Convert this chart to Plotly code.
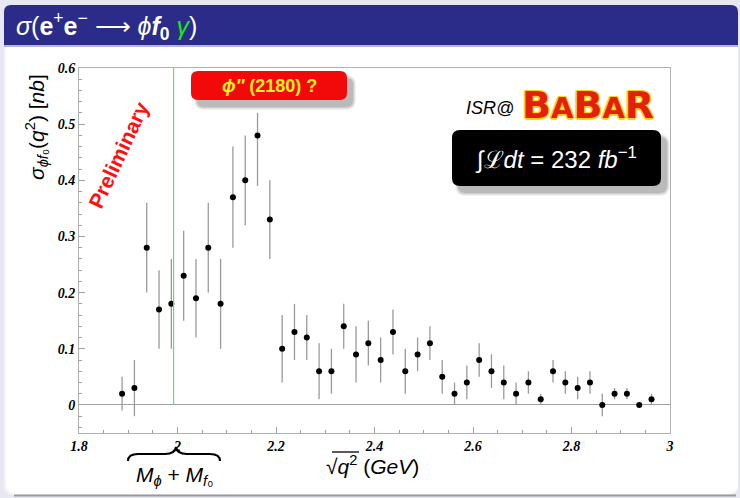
import plotly.graph_objects as go

# ---- data ----
x_centers = [1.8875, 1.9125, 1.9375, 1.9625, 1.9875, 2.0125, 2.0375, 2.0625, 2.0875, 2.1125,
             2.1375, 2.1625, 2.1875, 2.2125, 2.2375, 2.2625, 2.2875, 2.3125, 2.3375, 2.3625,
             2.3875, 2.4125, 2.4375, 2.4625, 2.4875, 2.5125, 2.5375, 2.5625, 2.5875, 2.6125,
             2.6375, 2.6625, 2.6875, 2.7125, 2.7375, 2.7625, 2.7875, 2.8125, 2.8375, 2.8625,
             2.8875, 2.9125, 2.9375, 2.9625]
sigma_nb = [0.02, 0.03, 0.28, 0.17, 0.18, 0.23, 0.19, 0.28, 0.18, 0.37,
            0.40, 0.48, 0.33, 0.10, 0.13, 0.12, 0.06, 0.06, 0.14, 0.09,
            0.11, 0.08, 0.13, 0.06, 0.09, 0.11, 0.05, 0.02, 0.04, 0.08,
            0.06, 0.04, 0.02, 0.04, 0.01, 0.06, 0.04, 0.03, 0.04, 0.00,
            0.02, 0.02, 0.00, 0.01]
err_up = [0.03, 0.05, 0.08, 0.07, 0.08, 0.08, 0.07, 0.08, 0.08, 0.09,
          0.08, 0.04, 0.07, 0.06, 0.05, 0.04, 0.05, 0.04, 0.04, 0.05,
          0.04, 0.04, 0.04, 0.04, 0.03, 0.03, 0.03, 0.02, 0.03, 0.03,
          0.03, 0.03, 0.02, 0.02, 0.01, 0.02, 0.02, 0.02, 0.02, 0.02,
          0.01, 0.01, 0.00, 0.01]
err_down = [0.03, 0.05, 0.08, 0.07, 0.08, 0.08, 0.07, 0.08, 0.08, 0.09,
            0.08, 0.09, 0.07, 0.06, 0.05, 0.04, 0.05, 0.04, 0.04, 0.05,
            0.04, 0.04, 0.04, 0.04, 0.03, 0.03, 0.03, 0.02, 0.03, 0.03,
            0.03, 0.03, 0.02, 0.02, 0.01, 0.02, 0.02, 0.02, 0.02, 0.02,
            0.01, 0.01, 0.00, 0.01]
threshold_gev = [1.992]
x_tickvals = [1.8, 2.0, 2.2, 2.4, 2.6, 2.8, 3.0]
x_ticktext = ["1.8", "2", "2.2", "2.4", "2.6", "2.8", "3"]
y_tickvals = [0.0, 0.1, 0.2, 0.3, 0.4, 0.5, 0.6]
y_ticktext = ["0", "0.1", "0.2", "0.3", "0.4", "0.5", "0.6"]

# ---- geometry helpers (pixels -> paper) ----
W, H = 740, 498
ML, MR, MT, MB = 79, 70, 68, 65
PW, PH = W - ML - MR, H - MT - MB


def px(x):
    return (x - ML) / PW


def py(y):
    return (H - MB - y) / PH


def P(x, y):
    return f"{px(x):.5f},{py(y):.5f}"


def rrect(x0, y0, x1, y1, r, top_only=False):
    if top_only:
        return (f"M {P(x0, y1)} L {P(x0, y0 + r)} Q {P(x0, y0)} {P(x0 + r, y0)} "
                f"L {P(x1 - r, y0)} Q {P(x1, y0)} {P(x1, y0 + r)} L {P(x1, y1)} Z")
    return (f"M {P(x0 + r, y0)} L {P(x1 - r, y0)} Q {P(x1, y0)} {P(x1, y0 + r)} "
            f"L {P(x1, y1 - r)} Q {P(x1, y1)} {P(x1 - r, y1)} L {P(x0 + r, y1)} "
            f"Q {P(x0, y1)} {P(x0, y1 - r)} L {P(x0, y0 + r)} Q {P(x0, y0)} {P(x0 + r, y0)} Z")


shapes = []


def add_path(path, fill=None, line_color=None, line_width=0, opacity=1.0, layer="below"):
    shapes.append(dict(type="path", xref="paper", yref="paper", path=path,
                       fillcolor=fill if fill else "rgba(0,0,0,0)",
                       line=dict(color=line_color if line_color else "rgba(0,0,0,0)", width=line_width),
                       opacity=opacity, layer=layer))


def add_line(x0, y0, x1, y1, color, width, layer="above"):
    shapes.append(dict(type="line", xref="paper", yref="paper", x0=px(x0), x1=px(x1), y0=py(y0), y1=py(y1),
                       line=dict(color=color, width=width), layer=layer))


# slide background
add_path(rrect(4, 5, 738, 495, 10), fill="#f4f4f8")
add_path(rrect(6, 5, 738, 494, 10), fill="#ffffff")
add_line(14, 495.5, 736, 495.5, "#9a9a9a", 2, layer="below")
# title bar
add_path(rrect(4, 5, 738, 45, 7, top_only=True), fill="#2b2b8a")
add_line(4, 46, 738, 46, "#9c9cd0", 1.5, layer="below")


def shadow_box(x0, y0, x1, y1, r, dx=6, dy=7):
    for k, op in [(3, 0.10), (2, 0.15), (1, 0.2), (0, 0.25)]:
        add_path(rrect(x0 + dx - k, y0 + dy - k, x1 + dx + k, y1 + dy + k, r + k), fill="#808080",
                 opacity=op, layer="above")


# red phi'' box
shadow_box(191, 71, 347, 100, 7)
add_path(rrect(191, 71, 347, 100, 7), fill="#f20a0a", layer="above")
# black luminosity box
shadow_box(452, 130, 661, 186, 8)
add_path(rrect(452, 130, 661, 186, 8), fill="#000000", layer="above")

# threshold line
shapes.append(dict(type="line", xref="x", yref="y", x0=threshold_gev[0], x1=threshold_gev[0], y0=0, y1=0.6,
                   line=dict(color="#66dd66", width=1.2), layer="above"))

# brace under axis
brace = (f"M {P(128, 461)} Q {P(128, 454)} {P(138, 454)} L {P(165, 454)} "
         f"Q {P(175, 454)} {P(176, 447)} Q {P(177, 454)} {P(187, 454)} "
         f"L {P(210, 454)} Q {P(220, 454)} {P(220, 461)}")
shapes.append(dict(type="path", xref="paper", yref="paper", path=brace,
                   line=dict(color="#000000", width=2), layer="above"))

# overline of the square root in x title
add_line(332, 452, 359, 452, "#000000", 1.3)

fig = go.Figure()
fig.add_trace(go.Scatter(
    x=x_centers, y=sigma_nb, mode="markers",
    marker=dict(color="black", size=6),
    error_y=dict(type="data", symmetric=False, array=err_up, arrayminus=err_down,
                 color="#9a9a9a", thickness=1.3, width=0),
    showlegend=False, hoverinfo="skip"))

ann = []


def A(x, y, text, size, color="black", family="Liberation Sans", angle=0, xanchor="center",
      yanchor="middle", weight="normal", style="normal", shadow=None):
    f = dict(size=size, color=color, family=family, weight=weight, style=style)
    if shadow:
        f["shadow"] = shadow
    ann.append(dict(x=px(x), y=py(y), xref="paper", yref="paper", text=text, showarrow=False,
                    xanchor=xanchor, yanchor=yanchor, textangle=angle, font=f))


A(14, 26, "<i>σ</i>(<b>e</b><sup>+</sup><b>e</b><sup>−</sup> ⟶ <i>ϕ</i><b><i>f</i></b><sub><b>0</b></sub> "
          "<span style='color:#19e619'><i>γ</i></span>)", 25, color="white", xanchor="left")
A(269, 86, "<i>ϕ′′</i> (2180) ?", 18, color="#ffee22", weight="bold")
A(118, 155, "Preliminary", 21, color="#ff1010", angle=-65, weight="bold")
A(490, 108, "<i>ISR@</i>", 18)
outline = ("-1px -1px 0 #ffd21a, 1px -1px 0 #ffd21a, -1px 1px 0 #ffd21a, 1px 1px 0 #ffd21a, "
           "0 -1.5px 0 #ffd21a, 0 1.5px 0 #ffd21a, -1.5px 0 0 #ffd21a, 1.5px 0 0 #ffd21a")
A(520, 105, "<span style='font-size:38px'>B</span>A<span style='font-size:38px'>B</span>A"
            "<span style='font-size:38px'>R</span>", 29, color="#e2200c", family="DejaVu Sans",
  weight="bold", xanchor="left", shadow=outline)
A(556, 158, "∫ℒ<i>dt</i> = 232 <i>fb</i><sup>−1</sup>", 24, color="white")
A(36, 127, "<i>σ</i><sub><i>ϕf</i>₀</sub>(<i>q</i><sup>2</sup>) [<i>nb</i>]", 21, angle=-90)
A(372, 465, "√<i>q</i><sup>2</sup> (<i>GeV</i>)", 21)
A(174, 476, "<i>M</i><sub><i>ϕ</i></sub> + <i>M</i><sub><i>f</i>₀</sub>", 21)

tickfont = dict(family="Liberation Serif", size=14, color="black", weight="bold", style="italic")
fig.update_layout(
    width=W, height=H, margin=dict(l=ML, r=MR, t=MT, b=MB, pad=0),
    paper_bgcolor="#e8e8f2", plot_bgcolor="rgba(0,0,0,0)",
    shapes=shapes, annotations=ann, showlegend=False,
    xaxis=dict(range=[1.8, 3.0], tickvals=x_tickvals, ticktext=x_ticktext, ticks="inside",
               ticklen=6, tickcolor="#a0a0a0", tickwidth=1, showline=True, linecolor="#b0b0b0",
               mirror=True, showgrid=False, zeroline=False, tickfont=tickfont,
               minor=dict(dtick=0.05, tick0=1.8, ticks="inside", ticklen=3, tickcolor="#a0a0a0",
                          showgrid=False)),
    yaxis=dict(range=[-0.05, 0.6], tickvals=y_tickvals, ticktext=y_ticktext, ticks="inside",
               ticklen=6, tickcolor="#a0a0a0", tickwidth=1, showline=True, linecolor="#b0b0b0",
               mirror=True, showgrid=False, zeroline=True, zerolinecolor="#a0a0a0", zerolinewidth=1,
               tickfont=tickfont,
               minor=dict(dtick=0.02, tick0=0, ticks="inside", ticklen=3, tickcolor="#a0a0a0",
                          showgrid=False)),
)
fig.write_html("out.html")
